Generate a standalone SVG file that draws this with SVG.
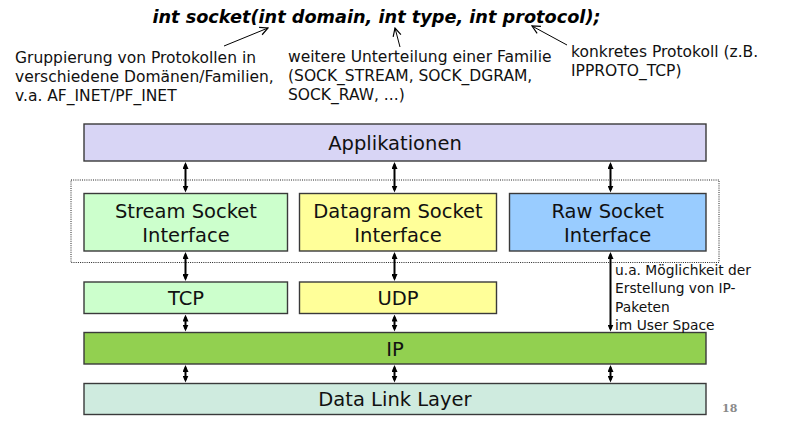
<svg xmlns="http://www.w3.org/2000/svg" width="788" height="434" viewBox="0 0 788 434">
<style>
  .box { stroke: #3a3a3a; stroke-width: 1.4; }
  .lbl { font-family: "DejaVu Sans", "Liberation Sans", sans-serif; font-size: 19.5px; fill: #111; text-anchor: middle; }
  .note { font-family: "DejaVu Sans", "Liberation Sans", sans-serif; font-size: 15.5px; fill: #111; }
  .note2 { font-family: "DejaVu Sans", "Liberation Sans", sans-serif; font-size: 13.8px; fill: #111; }
  .conn { stroke: #000; stroke-width: 2; fill: none; marker-start: url(#ah); marker-end: url(#ah); }
  .pt { stroke: #000; stroke-width: 1; fill: none; marker-end: url(#oh); }
</style>
<defs>
  <marker id="ah" viewBox="0 0 7 6" refX="4.5" refY="3" markerWidth="7" markerHeight="6" markerUnits="userSpaceOnUse" orient="auto-start-reverse">
    <path d="M0,0 L7,3 L0,6 Z" fill="#000"/>
  </marker>
  <marker id="oh" viewBox="0 0 10 10" refX="9" refY="5" markerWidth="10" markerHeight="10" markerUnits="userSpaceOnUse" orient="auto">
    <path d="M1,1 L9,5 L1,9" fill="none" stroke="#000" stroke-width="1.2"/>
  </marker>
</defs>
<rect width="788" height="434" fill="#ffffff"/>

<g id="title">
  <text x="376.5" y="22.5" font-family="'DejaVu Sans', 'Liberation Sans', sans-serif" font-size="17.7" font-weight="bold" font-style="italic" text-anchor="middle" fill="#000">int socket(int domain, int type, int protocol);</text>
</g>

<g id="note-domain">
  <text class="note" x="15" y="63">Gruppierung von Protokollen in</text>
  <text class="note" x="15" y="82">verschiedene Domänen/Familien,</text>
  <text class="note" x="15" y="101">v.a. AF_INET/PF_INET</text>
</g>
<g id="note-type">
  <text class="note" x="288" y="62">weitere Unterteilung einer Familie</text>
  <text class="note" x="288" y="81">(SOCK_STREAM, SOCK_DGRAM,</text>
  <text class="note" x="288" y="100">SOCK_RAW, ...)</text>
</g>
<g id="note-protocol">
  <text class="note" x="571" y="57">konkretes Protokoll (z.B.</text>
  <text class="note" x="571" y="76">IPPROTO_TCP)</text>
</g>

<g id="pointers">
  <line class="pt" x1="224" y1="46" x2="268" y2="28"/>
  <line class="pt" x1="400" y1="47" x2="395" y2="28"/>
  <line class="pt" x1="567" y1="45" x2="532" y2="26"/>
</g>

<g id="socket-layer">
  <rect x="71" y="180" width="648" height="82.5" fill="none" stroke="#222" stroke-width="1" stroke-dasharray="1,1.2"/>
</g>

<g id="applikationen">
  <rect class="box" x="84" y="124" width="622" height="37" fill="#d8d5f5"/>
  <text class="lbl" x="395" y="149.5">Applikationen</text>
</g>
<g id="stream">
  <rect class="box" x="84" y="193.5" width="203.5" height="57.5" fill="#ccffcc"/>
  <text class="lbl" x="186" y="217.5">Stream Socket</text>
  <text class="lbl" x="186" y="242">Interface</text>
</g>
<g id="datagram">
  <rect class="box" x="299.5" y="193.5" width="197" height="57.5" fill="#ffff99"/>
  <text class="lbl" x="398" y="217.5">Datagram Socket</text>
  <text class="lbl" x="398" y="242">Interface</text>
</g>
<g id="raw">
  <rect class="box" x="509.5" y="193.5" width="196.5" height="57.5" fill="#99ccff"/>
  <text class="lbl" x="607.7" y="217.5">Raw Socket</text>
  <text class="lbl" x="607.7" y="242">Interface</text>
</g>
<g id="tcp">
  <rect class="box" x="84" y="282" width="203.5" height="31.5" fill="#ccffcc"/>
  <text class="lbl" x="186" y="305">TCP</text>
</g>
<g id="udp">
  <rect class="box" x="299.5" y="282" width="197" height="31.5" fill="#ffff99"/>
  <text class="lbl" x="398" y="305">UDP</text>
</g>
<g id="ip">
  <rect class="box" x="84" y="332.5" width="622" height="31.5" fill="#92d050"/>
  <text class="lbl" x="395" y="355.5">IP</text>
</g>
<g id="datalink">
  <rect class="box" x="84" y="383.5" width="622" height="31" fill="#cfebdf"/>
  <text class="lbl" x="395" y="406">Data Link Layer</text>
</g>

<g id="raw-note">
  <text class="note2" x="615" y="274.5">u.a. Möglichkeit der</text>
  <text class="note2" x="615" y="293">Erstellung von IP-</text>
  <text class="note2" x="615" y="311.5">Paketen</text>
  <text class="note2" x="615" y="330">im User Space</text>
</g>

<g id="connectors">
  <line class="conn" x1="185.5" y1="164.5" x2="185.5" y2="190"/>
  <line class="conn" x1="394.5" y1="164.5" x2="394.5" y2="190"/>
  <line class="conn" x1="610.5" y1="164.5" x2="610.5" y2="190"/>
  <line class="conn" x1="185.5" y1="254.5" x2="185.5" y2="278.5"/>
  <line class="conn" x1="394.5" y1="254.5" x2="394.5" y2="278.5"/>
  <line class="conn" x1="610.5" y1="254.5" x2="610.5" y2="329"/>
  <line class="conn" x1="185.5" y1="317" x2="185.5" y2="329"/>
  <line class="conn" x1="394.5" y1="317" x2="394.5" y2="329"/>
  <line class="conn" x1="185.5" y1="367.5" x2="185.5" y2="380"/>
  <line class="conn" x1="394.5" y1="367.5" x2="394.5" y2="380"/>
  <line class="conn" x1="610.5" y1="367.5" x2="610.5" y2="380"/>
</g>

<g id="page-number">
  <text x="722" y="411.5" font-family="'DejaVu Serif', 'Liberation Serif', serif" font-size="11" font-weight="bold" fill="#8a8a8a">18</text>
</g>
</svg>
